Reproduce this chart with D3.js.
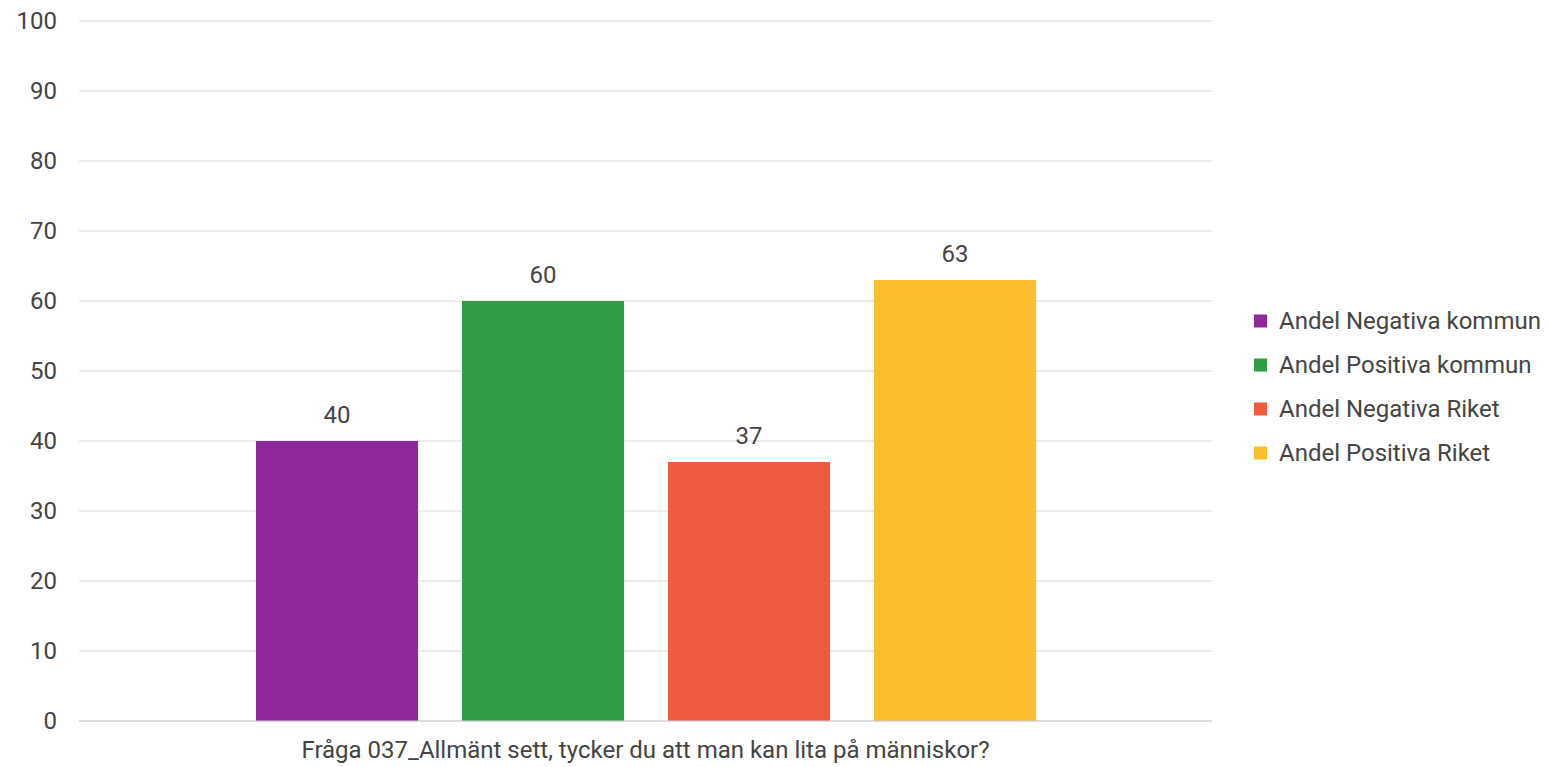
<!DOCTYPE html>
<html><head><meta charset="utf-8">
<script src="https://cdn.jsdelivr.net/npm/d3@7"></script>
<style>body{margin:0;background:#fff;}svg{display:block;font-family:Roboto,sans-serif;}</style>
</head><body>
<script>
const seriesNames = ["Andel Negativa kommun","Andel Positiva kommun","Andel Negativa Riket","Andel Positiva Riket"];
const seriesValues = [40, 60, 37, 63];
const seriesColors = ["#8E289C","#339C47","#EE5B3E","#FDBE2E"];
const yTicks = [0,10,20,30,40,50,60,70,80,90,100];
const category = "Fråga 037_Allmänt sett, tycker du att man kan lita på människor?";

(function(){
const W = 1548, H = 767;
const svg = d3.select("body").append("svg").attr("width", W).attr("height", H);
const mLeft = 79, mRight = 1212, mTop = 21, mBottom = 721;
const y = d3.scaleLinear().domain([0,100]).range([mBottom, mTop]);
const x = d3.scaleBand().domain(seriesNames).range([234, 1058]).paddingInner(0.2136).paddingOuter(0.1068);

const textColor = "#444";
const fs = 24;
svg.append("g").selectAll("line").data(yTicks).join("line")
  .attr("x1", mLeft).attr("x2", mRight)
  .attr("y1", d => y(d)).attr("y2", d => y(d))
  .attr("stroke", "#d9d9d9").attr("stroke-width", 1);
svg.append("g").selectAll("text").data(yTicks).join("text")
  .attr("x", 57).attr("y", d => y(d)).attr("dy", "0.35em")
  .attr("text-anchor", "end").attr("font-size", fs).attr("fill", textColor)
  .text(d => d);
svg.append("g").selectAll("rect").data(seriesNames).join("rect")
  .attr("x", d => x(d)).attr("width", x.bandwidth())
  .attr("y", (d,i) => y(seriesValues[i])).attr("height", (d,i) => mBottom - y(seriesValues[i]))
  .attr("fill", (d,i) => seriesColors[i]);
svg.append("g").selectAll("text").data(seriesNames).join("text")
  .attr("x", d => x(d) + x.bandwidth()/2)
  .attr("y", (d,i) => y(seriesValues[i]) - 18)
  .attr("text-anchor", "middle").attr("font-size", fs).attr("fill", textColor)
  .text((d,i) => seriesValues[i]);
svg.append("line").attr("x1", mLeft).attr("x2", mRight).attr("y1", mBottom).attr("y2", mBottom)
  .attr("stroke", "#cccccc").attr("stroke-width", 1);
svg.append("text").attr("x", (mLeft+mRight)/2).attr("y", 758)
  .attr("text-anchor", "middle").attr("font-size", fs).attr("fill", textColor).text(category);
const lg = svg.append("g").selectAll("g").data(seriesNames).join("g")
  .attr("transform", (d,i) => `translate(1254, ${321 + i*44})`);
lg.append("rect").attr("x", 0).attr("y", -6.5).attr("width", 13).attr("height", 13)
  .attr("fill", (d,i) => seriesColors[i]);
lg.append("text").attr("x", 25).attr("y", 0).attr("dy", "0.35em")
  .attr("font-size", fs).attr("fill", textColor).text(d => d);
})();
</script>
</body></html>
